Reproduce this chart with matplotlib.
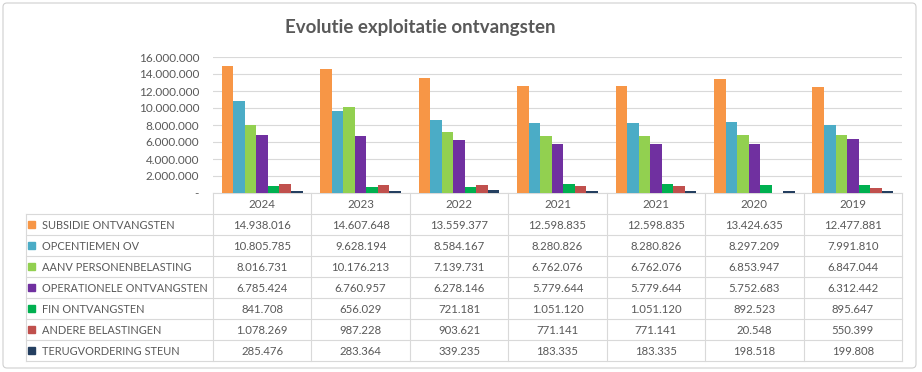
import numpy as np
import matplotlib
matplotlib.use("Agg")
import matplotlib.pyplot as plt
from matplotlib.patches import Rectangle, FancyBboxPatch

# data
jaren = ["2024", "2023", "2022", "2021", "2021", "2020", "2019"]
reeksen = ["SUBSIDIE ONTVANGSTEN", "OPCENTIEMEN OV", "AANV PERSONENBELASTING",
           "OPERATIONELE ONTVANGSTEN", "FIN ONTVANGSTEN", "ANDERE BELASTINGEN",
           "TERUGVORDERING STEUN"]
subsidie = [14938016, 14607648, 13559377, 12598835, 12598835, 13424635, 12477881]
opcentiemen = [10805785, 9628194, 8584167, 8280826, 8280826, 8297209, 7991810]
aanv_pb = [8016731, 10176213, 7139731, 6762076, 6762076, 6853947, 6847044]
operationeel = [6785424, 6760957, 6278146, 5779644, 5779644, 5752683, 6312442]
fin = [841708, 656029, 721181, 1051120, 1051120, 892523, 895647]
andere = [1078269, 987228, 903621, 771141, 771141, 20548, 550399]
terugv = [285476, 283364, 339235, 183335, 183335, 198518, 199808]
waarden = [subsidie, opcentiemen, aanv_pb, operationeel, fin, andere, terugv]
kleuren = ["#F79646", "#4BACC6", "#92D050", "#7030A0", "#00B050", "#C0504D", "#243F60"]

plt.rcParams['font.family'] = ['Lato', 'DejaVu Sans']
grijs = "#595959"
lijn = "#D9D9D9"

W, H = 922, 372
fig = plt.figure(figsize=(W / 100, H / 100), dpi=100)

def fmt(v):
    return f"{v:,}".replace(",", ".")

# achtergrond / rand
bg = fig.add_axes([0, 0, 1, 1])
bg.set_xlim(0, W)
bg.set_ylim(H, 0)
bg.axis("off")
bg.add_patch(FancyBboxPatch((3, 3), 913, 365, boxstyle="round,pad=0,rounding_size=4",
                            fc="white", ec="#D0D0D0", lw=0.8))

x0, x1 = 213, 902
ytop, ybase = 57, 193
ax = fig.add_axes([x0 / W, 1 - ybase / H, (x1 - x0) / W, (ybase - ytop) / H])
n = len(jaren)
x = np.arange(n)
bw = 0.117
for i, (vals, c) in enumerate(zip(waarden, kleuren)):
    ax.bar(x + (i - 3) * bw, vals, width=bw, color=c, zorder=3)
ax.set_xlim(-0.5, n - 0.5)
ax.set_ylim(0, 16000000)
ax.set_yticks(np.arange(0, 16000001, 2000000))
ax.set_yticklabels(["-"] + [fmt(v) for v in range(2000000, 16000001, 2000000)],
                   color=grijs, fontsize=8.5)
ax.tick_params(axis="y", length=0, pad=10)
ax.set_xticks([])
ax.grid(axis="y", color=lijn, lw=0.8, zorder=0)
for s in ["top", "right", "left"]:
    ax.spines[s].set_visible(False)
ax.spines["bottom"].set_color(lijn)
ax.patch.set_alpha(0)

fig.text(420 / W, 1 - 27 / H, "Evolutie exploitatie ontvangsten", ha="center", va="center",
         fontsize=13.5, fontweight="bold", color=grijs)

# gegevenstabel
tab = fig.add_axes([0, 0, 1, 1])
tab.set_xlim(0, W)
tab.set_ylim(H, 0)
tab.axis("off")
kw = (x1 - x0) / n
rh = 21
yrow0 = ybase + rh
xl = 26
yend = yrow0 + rh * len(reeksen)
for j in range(n + 1):
    tab.plot([x0 + j * kw] * 2, [ybase, yend], color=lijn, lw=0.8)
tab.plot([xl, xl], [yrow0, yend], color=lijn, lw=0.8)
for r in range(len(reeksen) + 1):
    tab.plot([xl, x1], [yrow0 + r * rh] * 2, color=lijn, lw=0.8)
for j, jr in enumerate(jaren):
    tab.text(x0 + (j + 0.5) * kw, ybase + rh / 2 + 1, jr, ha="center", va="center",
             fontsize=8.3, color=grijs)
for r, (naam, vals, c) in enumerate(zip(reeksen, waarden, kleuren)):
    ym = yrow0 + (r + 0.5) * rh
    tab.add_patch(Rectangle((28, ym - 3.5), 7, 7, color=c))
    tab.text(42, ym + 1, naam, ha="left", va="center", fontsize=7.9, color=grijs)
    for j, v in enumerate(vals):
        tab.text(x0 + (j + 0.5) * kw, ym + 1, fmt(v), ha="center", va="center",
                 fontsize=8.2, color=grijs)

fig.savefig("out.png", dpi=100)
